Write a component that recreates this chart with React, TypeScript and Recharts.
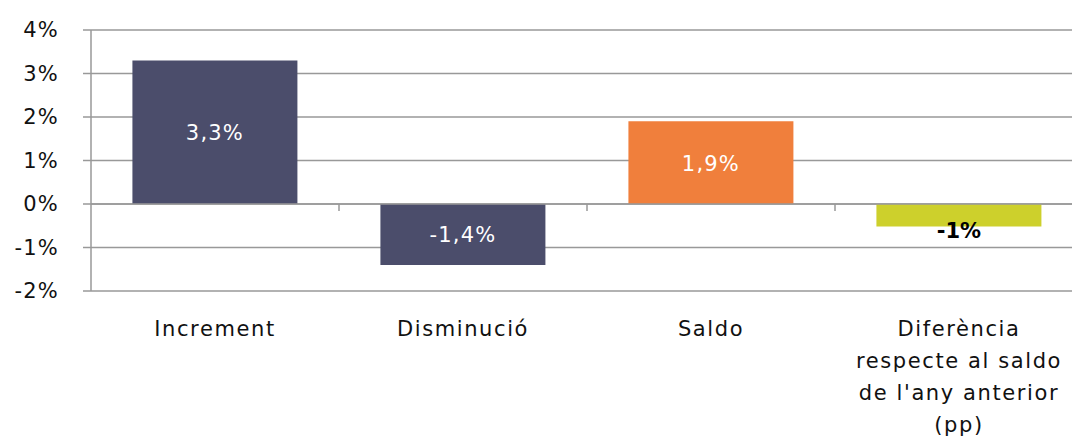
import { BarChart, Bar, XAxis, YAxis, CartesianGrid, Cell, LabelList, ReferenceLine } from "recharts";

const categories = ["Increment", "Disminució", "Saldo", "Diferència\nrespecte al saldo\nde l'any anterior\n(pp)"];
const values = [3.3, -1.4, 1.9, -0.52];
const valueLabels = ["3,3%", "-1,4%", "1,9%", "-1%"];
const barColors = ["#4b4d6b", "#4b4d6b", "#f07f3c", "#cdd02c"];
const yTicks = [-2, -1, 0, 1, 2, 3, 4];
const boundaries = [1, 2, 3];

const data = categories.map((c, i) => ({ name: c, value: values[i], label: valueLabels[i], slot: i + 0.5 }));

const font = "'DejaVu Sans', sans-serif";

function CategoryTick(props: any) {
  const { x, y, payload } = props;
  const lines = String(payload.value).split("\n");
  return (
    <text x={x} y={y} textAnchor="middle" fill="#111" fontSize={21} letterSpacing={1.6} fontFamily={font}>
      {lines.map((l, i) => (
        <tspan key={i} x={x} dy={i === 0 ? 37 : 32}>
          {l}
        </tspan>
      ))}
    </text>
  );
}

function BarLabel(props: any) {
  const { x, y, width, height, index } = props;
  const cx = x + width / 2;
  const top = Math.min(y, y + height);
  const bottom = Math.max(y, y + height);
  if (index === 3) {
    return (
      <text x={cx} y={bottom + 11} textAnchor="middle" fill="#000" fontSize={21} fontWeight="bold" fontFamily={font}>
        {valueLabels[index]}
      </text>
    );
  }
  return (
    <text x={cx} y={(top + bottom) / 2 + 8} textAnchor="middle" fill="#fff" fontSize={21} letterSpacing={1.2} fontFamily={font}>
      {valueLabels[index]}
    </text>
  );
}

export default function App() {
  return (
    <div style={{ position: "absolute", left: 0, top: 0, width: 1072, height: 439, overflow: "hidden", background: "#fff" }}>
      <BarChart
        width={1083}
        height={439}
        data={data}
        margin={{ top: 30, right: 0, left: 0, bottom: 0 }}
        barCategoryGap="16.7%"
      >
        <CartesianGrid vertical={false} stroke="#999" strokeWidth={1.5} />
        <XAxis
          dataKey="name"
          height={148}
          axisLine={false}
          tickLine={false}
          interval={0}
          tick={<CategoryTick />}
        />
        <XAxis xAxisId="num" dataKey="slot" type="number" domain={[0, 4]} allowDataOverflow hide />
        <YAxis
          width={91}
          domain={[-2, 4]}
          ticks={yTicks}
          tickFormatter={(v) => `${v}%`}
          axisLine={{ stroke: "#999", strokeWidth: 1.5 }}
          tickLine={{ stroke: "#999", strokeWidth: 1.5 }}
          tickSize={8}
          tickMargin={24}
          tick={{ fill: "#111", fontSize: 21, fontFamily: font, letterSpacing: 1.2 }}
        />
        <ReferenceLine y={0} stroke="#999" strokeWidth={1.5} />
        {boundaries.map((b) => (
          <ReferenceLine
            key={b}
            xAxisId="num"
            segment={[
              { x: b, y: 0 },
              { x: b, y: -0.16 },
            ]}
            stroke="#999"
            strokeWidth={1.5}
          />
        ))}
        <Bar dataKey="value" isAnimationActive={false}>
          {data.map((d, i) => (
            <Cell key={i} fill={barColors[i]} />
          ))}
          <LabelList dataKey="label" content={<BarLabel />} />
        </Bar>
      </BarChart>
    </div>
  );
}
